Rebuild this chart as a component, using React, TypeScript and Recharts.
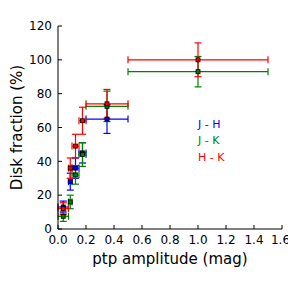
import { ScatterChart, Scatter, XAxis, YAxis, ErrorBar } from 'recharts';

// amplitude bins: centre and half-width (mag)
const BIN_CENTER = [0.0375, 0.0875, 0.125, 0.175, 0.35, 1.0];
const BIN_HALF = [0.0375, 0.0125, 0.025, 0.025, 0.15, 0.5];

const JH_FRAC = [13, 28, 36, 45, 65];
const JH_ERR = [3.5, 5, 6, 6, 8.5];
const JK_FRAC = [7.5, 16, 32, 44, 72.5, 93];
const JK_ERR = [3, 4, 5.5, 7, 9, 9];
const HK_FRAC = [12, 36, 49, 64, 74, 100];
const HK_ERR = [3.5, 6, 7, 8, 8.5, 10];

const X_TICKS = [0, 0.2, 0.4, 0.6, 0.8, 1.0, 1.2, 1.4, 1.6];
const Y_TICKS = [0, 20, 40, 60, 80, 100, 120];

const LABELS = ['J - H', 'J - K', 'H - K'];
const LABEL_X = 1.0;
const LABEL_Y = [60, 50, 40];

const COLORS = ['#0000ff', '#008000', '#ff0000'];
const FONT = 'DejaVu Sans, sans-serif';

const build = (fracs: number[], errs: number[]) =>
  fracs.map((y, i) => ({ x: BIN_CENTER[i], y, xErr: BIN_HALF[i], yErr: errs[i] }));

const series = [
  { name: 'J - H', data: build(JH_FRAC, JH_ERR), color: COLORS[0] },
  { name: 'J - K', data: build(JK_FRAC, JK_ERR), color: COLORS[1] },
  { name: 'H - K', data: build(HK_FRAC, HK_ERR), color: COLORS[2] },
];

const labelData = LABELS.map((label, i) => ({ x: LABEL_X, y: LABEL_Y[i], label, color: COLORS[i] }));

const square = (color: string) => (props: any) => (
  <rect
    x={props.cx - 2}
    y={props.cy - 2}
    width={4}
    height={4}
    fill={color}
    stroke="#000"
    strokeWidth={0.8}
  />
);

const textShape = (props: any) => (
  <text x={props.cx} y={props.cy} fill={props.payload.color} fontSize={11} fontFamily={FONT}>
    {props.payload.label}
  </text>
);

const tickStyle = { fill: '#000', fontSize: 12, fontFamily: FONT };

export default function App() {
  return (
    <div style={{ position: 'absolute', left: 0, top: 0 }}>
      <ScatterChart width={288} height={288} margin={{ top: 26, right: 6, bottom: 0, left: 0 }}>
        <XAxis
          type="number"
          dataKey="x"
          domain={[0, 1.6]}
          ticks={X_TICKS}
          tickFormatter={(v: number) => v.toFixed(1)}
          tickSize={-4}
          tickMargin={10}
          height={59}
          stroke="#000"
          tick={tickStyle}
          allowDataOverflow
          label={{ value: 'ptp amplitude (mag)', position: 'insideBottom', offset: 24, fill: '#000', fontSize: 15, fontFamily: FONT }}
        />
        <XAxis
          xAxisId="top"
          orientation="top"
          type="number"
          domain={[0, 1.6]}
          ticks={X_TICKS}
          tick={false}
          tickSize={-4}
          height={0}
          stroke="#000"
        />
        <YAxis
          type="number"
          dataKey="y"
          domain={[0, 120]}
          ticks={Y_TICKS}
          tickSize={-4}
          tickMargin={10}
          width={58}
          stroke="#000"
          tick={tickStyle}
          allowDataOverflow
          label={{ value: 'Disk fraction (%)', angle: -90, position: 'insideLeft', offset: 17, fill: '#000', fontSize: 15, fontFamily: FONT, style: { textAnchor: 'middle' } }}
        />
        <YAxis
          yAxisId="right"
          orientation="right"
          type="number"
          domain={[0, 120]}
          ticks={Y_TICKS}
          tick={false}
          tickSize={-4}
          width={0}
          stroke="#000"
        />
        {series.map((s) => (
          <Scatter key={s.name} data={s.data} shape={square(s.color)} isAnimationActive={false}>
            <ErrorBar dataKey="xErr" direction="x" width={3.5} stroke={s.color} strokeWidth={1.2} />
            <ErrorBar dataKey="yErr" direction="y" width={3.5} stroke={s.color} strokeWidth={1.2} />
          </Scatter>
        ))}
        <Scatter data={labelData} shape={textShape} isAnimationActive={false} />
      </ScatterChart>
    </div>
  );
}
